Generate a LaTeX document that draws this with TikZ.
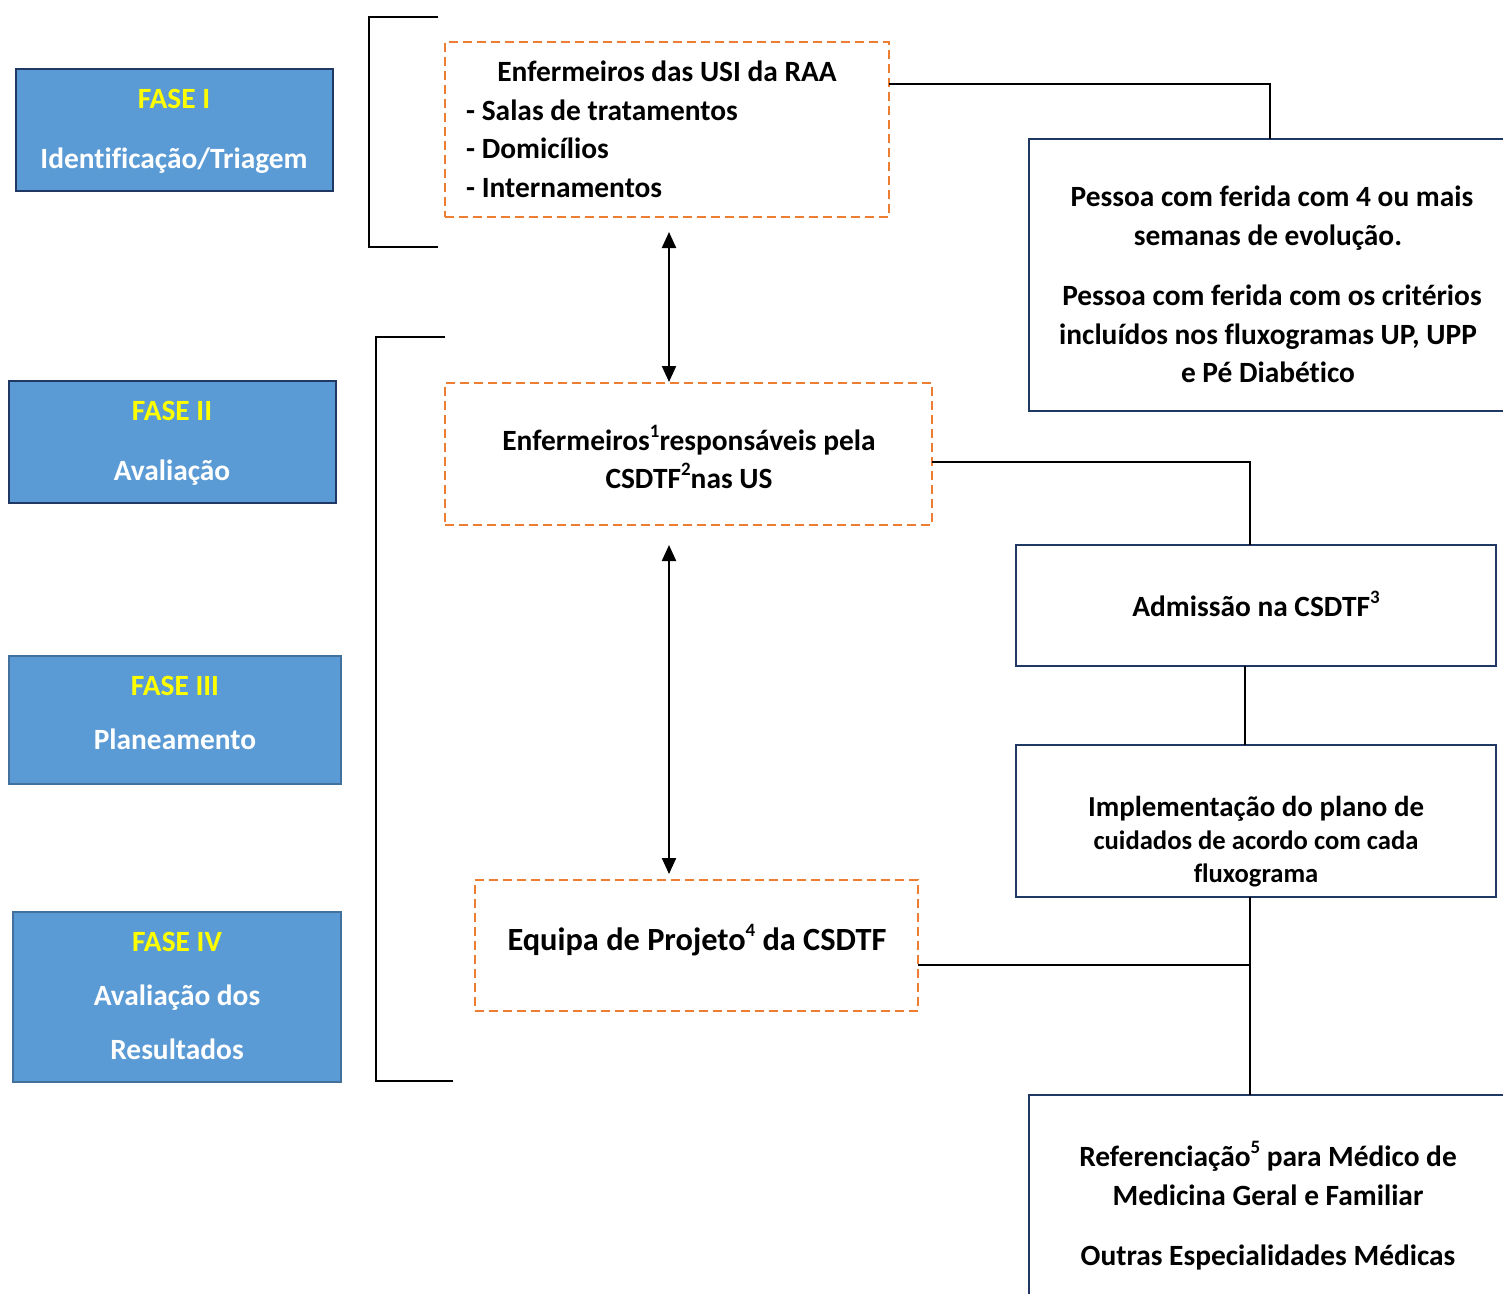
\documentclass[tikz,border=0pt]{standalone}
\usepackage{fontspec}
\setmainfont{Carlito}[Ligatures={NoCommon}]
\usetikzlibrary{arrows.meta}
\definecolor{phasefill}{HTML}{5B9BD5}
\definecolor{navy}{HTML}{1F3864}
\definecolor{steel}{HTML}{41719C}
\definecolor{orng}{HTML}{ED7D31}
\definecolor{yel}{HTML}{FFFF00}
\newcommand{\supr}[1]{\raisebox{0.42em}{\fontsize{19}{19}\selectfont\bfseries #1}}
\tikzset{
  box/.style={rectangle, inner sep=0pt, outer sep=0pt},
  phasebox/.style={box, fill=phasefill, draw=navy, line width=2.5bp},
  phaseboxlight/.style={box, fill=phasefill, draw=steel, line width=2.5bp},
  dashbox/.style={box, draw=orng, line width=2.4bp, dash pattern=on 9bp off 5bp},
  navybox/.style={box, draw=navy, line width=2.5bp, fill=white},
  txt/.style={inner sep=0pt, font=\fontsize{29.5}{34}\selectfont\bfseries, anchor=base},
  ytxt/.style={txt, text=yel},
  wtxt/.style={txt, text=white},
  conn/.style={line width=1.8bp, draw=black},
  dbl/.style={line width=2.2bp, {Triangle[width=14bp,length=16bp]}-{Triangle[width=14bp,length=16bp]}},
}
\begin{document}
\begin{tikzpicture}[x=1bp,y=-1bp]
\clip (0,0) rectangle (1503,1293);
\fill[white] (0,0) rectangle (1503,1293);

% phase boxes
\node[phasebox, minimum width=317bp, minimum height=122bp] (f1) at (174.5,130) {};
\node[ytxt] (f1a) at (174,108) {FASE I};
\node[wtxt] (f1b) at (174,168) {Identificação/Triagem};

\node[phasebox, minimum width=327bp, minimum height=122bp] (f2) at (172.5,442) {};
\node[ytxt] (f2a) at (172,420) {FASE II};
\node[wtxt] (f2b) at (172,480) {Avaliação};

\node[phaseboxlight, minimum width=332bp, minimum height=128bp] (f3) at (175,720) {};
\node[ytxt] (f3a) at (175,695) {FASE III};
\node[wtxt] (f3b) at (175,749) {Planeamento};

\node[phaseboxlight, minimum width=328bp, minimum height=170bp] (f4) at (177,997) {};
\node[ytxt] (f4a) at (177,951) {FASE IV};
\node[wtxt] (f4b) at (177,1005) {Avaliação dos};
\node[wtxt] (f4c) at (177,1059) {Resultados};

% brackets
\coordinate (k1a) at (438,17);
\coordinate (k1b) at (369,17);
\coordinate (k1c) at (369,247);
\coordinate (k1d) at (438,247);
\draw[conn] (k1a) -- (k1b) -- (k1c) -- (k1d);
\coordinate (k2a) at (445,337);
\coordinate (k2b) at (376,337);
\coordinate (k2c) at (376,1081);
\coordinate (k2d) at (453,1081);
\draw[conn] (k2a) -- (k2b) -- (k2c) -- (k2d);

% dashed boxes
\node[dashbox, minimum width=444bp, minimum height=175bp] (b1) at (667,129.5) {};
\node[txt] (b1a) at (667,81) {Enfermeiros das USI da RAA};
\node[txt, anchor=base west] (b1b) at (466,120) {- Salas de tratamentos};
\node[txt, anchor=base west] (b1c) at (466,158) {- Domicílios};
\node[txt, anchor=base west] (b1d) at (466,197) {- Internamentos};

\node[dashbox, minimum width=487bp, minimum height=142bp] (b2) at (688.5,454) {};
\node[txt] (b2a) at (689,450) {Enfermeiros\supr{1}responsáveis pela};
\node[txt] (b2b) at (689,488) {CSDTF\supr{2}nas US};

\node[dashbox, minimum width=443bp, minimum height=131bp] (b3) at (696.5,945.5) {};
\node[txt, font=\fontsize{32.5}{38}\selectfont\bfseries] (b3a) at (697,950.5) {Equipa de Projeto\supr{4} da CSDTF};

% right boxes
\node[navybox, minimum width=491bp, minimum height=272bp] (rA) at (1274.5,275) {};
\node[txt] (rA1) at (1272,206) {Pessoa com ferida com 4 ou mais};
\node[txt] (rA2) at (1268,245) {semanas de evolução.};
\node[txt] (rA3) at (1272,305) {Pessoa com ferida com os critérios};
\node[txt] (rA4) at (1268,344) {incluídos nos fluxogramas UP, UPP};
\node[txt] (rA5) at (1268,382) {e Pé Diabético};

\node[navybox, minimum width=480bp, minimum height=121bp] (rB) at (1256,605.5) {};
\node[txt] (rB1) at (1256,616) {Admissão na CSDTF\supr{3}};

\node[navybox, minimum width=480bp, minimum height=152bp] (rC) at (1256,821) {};
\node[txt, font=\fontsize{29}{33}\selectfont\bfseries] (rC1) at (1256,816) {Implementação do plano de};
\node[txt, font=\fontsize{26.7}{31}\selectfont\bfseries] (rC2) at (1256,849) {cuidados de acordo com cada};
\node[txt, font=\fontsize{26.7}{31}\selectfont\bfseries] (rC3) at (1256,882) {fluxograma};

\node[navybox, minimum width=491bp, minimum height=215bp] (rD) at (1274.5,1202.5) {};
\node[txt] (rD1) at (1268,1166) {Referenciação\supr{5} para Médico de};
\node[txt] (rD2) at (1268,1205) {Medicina Geral e Familiar};
\node[txt] (rD3) at (1268,1265) {Outras Especialidades Médicas};

% connectors
\coordinate (c1) at (889,84);
\coordinate (c1t) at (1270,139);
\draw[conn] (c1) -| (c1t);
\coordinate (c2) at (932,462);
\coordinate (c2t) at (1250,545);
\draw[conn] (c2) -| (c2t);
\coordinate (c3a) at (1245,666);
\coordinate (c3b) at (1245,745);
\draw[conn] (c3a) -- (c3b);
\coordinate (c4a) at (1250,897);
\coordinate (c4b) at (1250,1095);
\draw[conn] (c4a) -- (c4b);
\coordinate (c5) at (918,965);
\coordinate (c5t) at (1250,965);
\draw[conn] (c5) -- (c5t);

% arrows
\coordinate (a1t) at (669,232);
\coordinate (a1b) at (669,382);
\draw[dbl] (a1t) -- (a1b);
\coordinate (a2t) at (669,545);
\coordinate (a2b) at (669,874);
\draw[dbl] (a2t) -- (a2b);
\end{tikzpicture}
\end{document}
